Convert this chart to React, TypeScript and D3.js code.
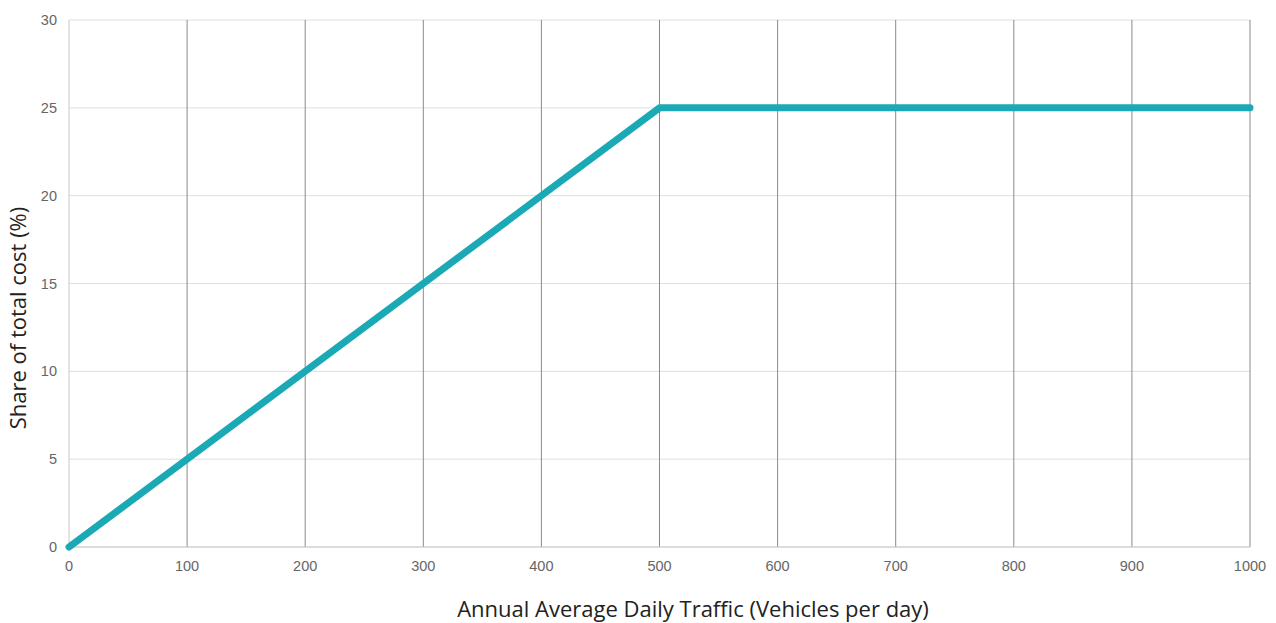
import React from "react";
import * as d3 from "d3";

const traffic = [0, 500, 1000];
const share = [0, 25, 25];
const xTicks = [0, 100, 200, 300, 400, 500, 600, 700, 800, 900, 1000];
const yTicks = [0, 5, 10, 15, 20, 25, 30];

export default function App() {
  const W = 1276, H = 623;
  const m = { left: 69, right: 1250, top: 20, bottom: 547 };
  const x = d3.scaleLinear().domain([0, 1000]).range([m.left, m.right]);
  const y = d3.scaleLinear().domain([0, 30]).range([m.bottom, m.top]);
  const pts = traffic.map((t, i) => [t, share[i]] as [number, number]);
  const line = d3.line<[number, number]>().x(d => x(d[0])).y(d => y(d[1]));
  return (
    <svg width={W} height={H} style={{ position: "absolute", left: 0, top: 0 }}>
      <rect width={W} height={H} fill="#fff" />
      {yTicks.map(t => (
        <line key={"h" + t} x1={m.left} x2={m.right} y1={y(t)} y2={y(t)} stroke="#dedede" strokeWidth={1} />
      ))}
      {xTicks.map(t => (
        <line key={"v" + t} x1={x(t)} x2={x(t)} y1={m.top} y2={m.bottom}
          stroke={t === 0 ? "#c8c8c8" : "#8a8a8a"} strokeWidth={1} />
      ))}
      <line x1={m.left} x2={m.right} y1={m.bottom} y2={m.bottom} stroke="#c8c8c8" />
      {yTicks.map(t => (
        <text key={"yl" + t} x={57} y={y(t) + 5} textAnchor="end" fontFamily="Liberation Sans, Arial, sans-serif" fontSize={14.5} fill="#666">{t}</text>
      ))}
      {xTicks.map(t => (
        <text key={"xl" + t} x={x(t)} y={571} textAnchor="middle" fontFamily="Liberation Sans, Arial, sans-serif" fontSize={14.5} fill="#666">{t}</text>
      ))}
      <path d={line(pts) || ""} fill="none" stroke="#1aa9b5" strokeWidth={7} strokeLinecap="round" strokeLinejoin="round" />
      <text x={693} y={617} textAnchor="middle" fontFamily="Open Sans, Noto Sans, sans-serif" fontSize={22} fill="#222">Annual Average Daily Traffic (Vehicles per day)</text>
      <text transform={`translate(26,318) rotate(-90)`} textAnchor="middle" fontFamily="Open Sans, Noto Sans, sans-serif" fontSize={22} fill="#222">Share of total cost (%)</text>
    </svg>
  );
}
